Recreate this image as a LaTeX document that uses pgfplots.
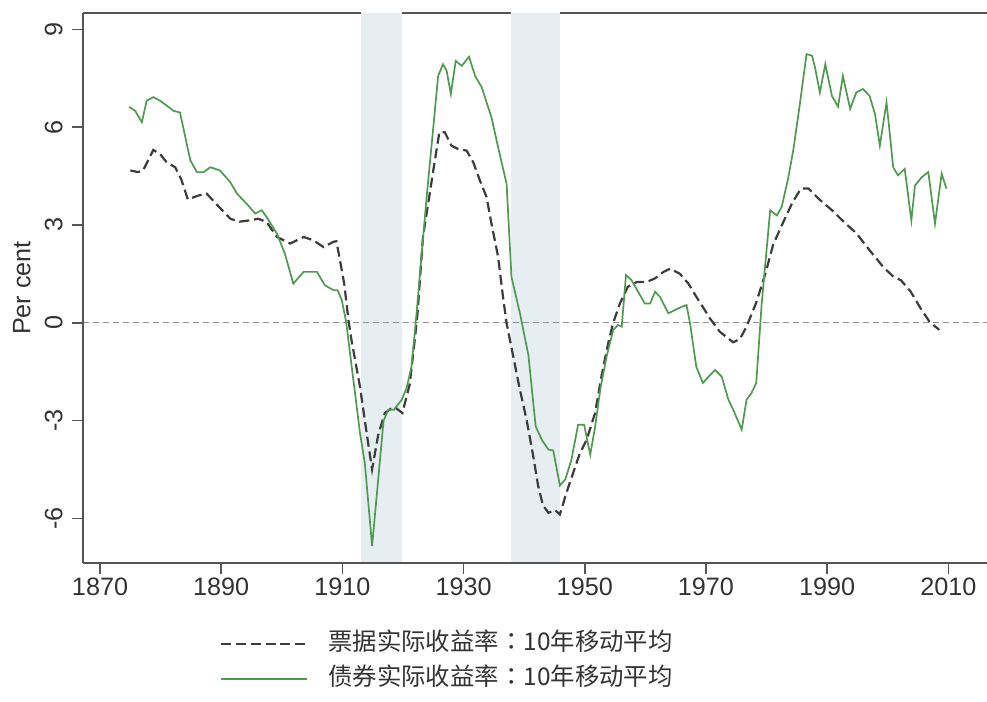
\documentclass[border=0pt]{standalone}
\usepackage{pgfplots}
\pgfplotsset{compat=1.18}
\usepackage{fontspec}
\setmainfont{Liberation Sans}
\newfontfamily\cjk{Noto Sans CJK SC}
\newfontfamily\cjktc{Noto Sans CJK TC}
\definecolor{bondgreen}{HTML}{4E9A4E}
\definecolor{billgray}{HTML}{3C3C3C}
\definecolor{shade}{HTML}{E6EEF2}
\definecolor{axisgray}{HTML}{555555}
\definecolor{txtgray}{HTML}{333333}
\begin{document}
\begin{tikzpicture}
\useasboundingbox (-41.35pt,-69.35pt) rectangle (452.15pt,281.65pt);
\begin{axis}[
  at={(0pt,0pt)}, anchor=south west,
  scale only axis, width=452.2pt, height=275.3pt,
  xmin=1867.14, xmax=2016.4, ymin=-7.38, ymax=9.51,
  clip=false,
  axis x line*=bottom, axis y line*=left,
  axis line style={draw=axisgray, line width=1pt},
  axis on top,
  tick align=outside, major tick length=5.35pt,
  every tick/.style={draw=axisgray, line width=0.8pt},
  xtick={1870,1890,...,2010}, ytick={-6,-3,0,3,6,9},
  /pgf/number format/assume math mode=true,
  /pgf/number format/1000 sep={},
  tick label style={font=\fontsize{12.6}{14}\selectfont, text=txtgray, inner sep=0pt},
  xticklabel shift=2pt,
  yticklabel style={rotate=90, anchor=south},
  yticklabel shift=4.5pt,
  ylabel={Per cent},
  ylabel style={at={(axis description cs:-0.0571,0.5)}, anchor=south, inner sep=0pt, rotate=0, font=\fontsize{12.6}{14}\selectfont, text=txtgray},
  legend image code/.code={\draw[#1] (0pt,0.3pt) -- (43pt,0.3pt);},
  legend cell align=left,
  legend style={at={(axis description cs:0.1518,-0.1264)}, anchor=north west,
    draw=none, fill=none, inner sep=0pt, outer sep=0pt, row sep=6pt,
    font=\cjk\fontsize{12.2}{14}\selectfont, text=txtgray,
    nodes={inner sep=0pt, text height=9pt, text depth=2.5pt},
    /tikz/every odd column/.append style={column sep=10pt}},
]
% shaded periods
\addplot[fill=shade, draw=none, forget plot] coordinates {(1913.1,-7.38) (1913.1,9.51) (1919.8,9.51) (1919.8,-7.38)} -- cycle;
\addplot[fill=shade, draw=none, forget plot] coordinates {(1937.9,-7.38) (1937.9,9.51) (1945.9,9.51) (1945.9,-7.38)} -- cycle;
% zero line
\addplot[draw=gray!85, line width=0.7pt, dash pattern=on 3.2pt off 1.8pt, forget plot] coordinates {(1867.14,0) (2016.4,0)};
% bills
\addplot[draw=billgray, line width=1.1pt, dash pattern=on 5pt off 2.4pt] coordinates {
(1875.0,4.67) (1876.3,4.62) (1877.1,4.67) (1878.8,5.30) (1880.0,5.15) (1881.0,4.92)
(1882.4,4.77) (1883.4,4.40) (1884.5,3.78) (1886.2,3.90) (1887.6,3.96) (1889.3,3.62)
(1891.5,3.19) (1893.0,3.10) (1894.7,3.14) (1896.1,3.19) (1897.5,3.09) (1899.2,2.63)
(1901.4,2.43) (1903.6,2.63) (1905.2,2.53) (1906.9,2.32) (1908.5,2.48) (1909.0,2.50)
(1909.4,2.12) (1910.3,1.20) (1911.0,0.08) (1911.5,-0.53) (1912.9,-1.96) (1914.0,-3.38)
(1914.9,-4.50) (1915.9,-3.45) (1917.0,-2.77) (1918.5,-2.57) (1919.9,-2.77) (1921.1,-1.90)
(1921.9,-0.60) (1922.4,0.29) (1923.3,2.63) (1925.0,4.67) (1926.0,5.84) (1926.9,5.84)
(1928.0,5.43) (1929.1,5.33) (1930.5,5.28) (1931.6,4.92) (1932.7,4.36) (1933.8,3.85)
(1934.6,3.04) (1935.7,2.02) (1936.5,0.80) (1937.1,-0.02) (1938.2,-1.04) (1939.3,-2.06)
(1940.4,-2.98) (1941.5,-4.10) (1942.3,-5.00) (1943.1,-5.60) (1944.0,-5.83) (1945.1,-5.75)
(1945.9,-5.88) (1947.0,-5.20) (1948.1,-4.60) (1949.2,-4.00) (1950.3,-3.60) (1951.7,-2.77)
(1952.8,-1.60) (1953.9,-0.60) (1954.7,0.00) (1955.8,0.59) (1957.1,1.10) (1958.6,1.25)
(1960.2,1.25) (1961.6,1.36) (1963.0,1.56) (1964.1,1.66) (1965.7,1.50) (1967.1,1.20)
(1968.4,0.80) (1969.8,0.39) (1970.7,0.12) (1972.3,-0.28) (1974.5,-0.60) (1975.6,-0.50)
(1976.7,-0.12) (1978.3,0.62) (1979.8,1.50) (1981.1,2.40) (1982.8,3.10) (1984.3,3.70)
(1985.7,4.12) (1986.9,4.12) (1988.6,3.80) (1990.8,3.45) (1993.0,3.05) (1994.8,2.75)
(1997.1,2.20) (1999.3,1.70) (2000.9,1.42) (2002.2,1.30) (2003.8,0.95) (2005.5,0.42)
(2006.9,0.03) (2008.5,-0.22)
};
\addlegendentry{票据实际收益率{\cjktc ：}10年移动平均}
% bonds
\addplot[draw=bondgreen, line width=0.85pt, legend image post style={line width=1.2pt}] coordinates {
(1874.8,6.62) (1875.8,6.50) (1876.9,6.15) (1877.7,6.81) (1878.8,6.92) (1879.9,6.81)
(1881.0,6.66) (1882.1,6.50) (1883.2,6.45) (1884.9,4.98) (1886.0,4.62) (1887.1,4.62)
(1888.2,4.77) (1889.8,4.67) (1891.5,4.31) (1892.6,3.96) (1894.2,3.65) (1895.6,3.35)
(1896.7,3.45) (1897.5,3.24) (1899.2,2.73) (1900.5,2.12) (1901.9,1.20) (1903.6,1.56)
(1905.8,1.56) (1907.1,1.15) (1908.5,1.00) (1909.2,1.00) (1909.9,0.69) (1910.6,0.05)
(1912.9,-3.38) (1913.7,-4.30) (1914.9,-6.85) (1916.8,-3.00) (1917.6,-2.67) (1918.5,-2.67)
(1919.8,-2.36) (1920.6,-2.00) (1921.4,-1.35) (1922.1,0.00) (1923.9,3.85) (1925.0,5.99)
(1925.8,7.57) (1926.6,7.93) (1927.2,7.73) (1927.9,7.02) (1928.7,8.03) (1929.7,7.88)
(1930.9,8.16) (1931.9,7.57) (1933.0,7.22) (1934.6,6.30) (1935.7,5.38) (1937.1,4.26)
(1937.9,1.41) (1939.3,0.29) (1940.7,-1.00) (1941.9,-3.18) (1942.9,-3.59) (1944.0,-3.89)
(1944.8,-3.92) (1945.9,-5.00) (1946.8,-4.80) (1947.8,-4.20) (1948.9,-3.13) (1949.9,-3.13)
(1950.9,-4.05) (1951.7,-3.20) (1952.6,-2.00) (1953.6,-1.04) (1954.7,-0.22) (1955.5,-0.07)
(1956.1,-0.12) (1956.8,1.46) (1957.7,1.31) (1958.8,0.95) (1959.9,0.59) (1960.8,0.59)
(1961.6,0.95) (1962.4,0.80) (1963.8,0.29) (1964.9,0.39) (1966.0,0.49) (1966.8,0.54)
(1967.4,-0.05) (1968.4,-1.35) (1969.5,-1.85) (1970.7,-1.60) (1971.5,-1.45) (1972.6,-1.65)
(1973.7,-2.36) (1974.5,-2.67) (1975.9,-3.28) (1976.7,-2.36) (1977.5,-2.16) (1978.3,-1.85)
(1979.2,0.59) (1980.6,3.45) (1981.7,3.29) (1982.5,3.55) (1983.6,4.46) (1984.4,5.28)
(1985.5,6.71) (1986.6,8.24) (1987.5,8.19) (1988.0,7.83) (1988.8,7.06) (1989.7,7.93)
(1990.8,6.95) (1991.8,6.63) (1992.6,7.57) (1993.8,6.56) (1994.8,7.06) (1995.9,7.17)
(1997.0,6.96) (1997.9,6.40) (1998.7,5.43) (1999.8,6.76) (2000.4,5.69) (2000.9,4.77)
(2001.7,4.52) (2002.8,4.72) (2003.9,3.14) (2004.5,4.21) (2005.6,4.46) (2006.7,4.62)
(2007.8,3.04) (2008.9,4.57) (2009.7,4.11)
};
\addlegendentry{债券实际收益率{\cjktc ：}10年移动平均}
% top frame line, interrupted by the shaded periods
\draw[axisgray, line width=1pt] (axis cs:1867.14,9.51) -- (axis cs:1913.1,9.51);
\draw[axisgray, line width=1pt] (axis cs:1919.8,9.51) -- (axis cs:1937.9,9.51);
\draw[axisgray, line width=1pt] (axis cs:1945.9,9.51) -- (axis cs:2016.4,9.51);
\end{axis}
\end{tikzpicture}
\end{document}
